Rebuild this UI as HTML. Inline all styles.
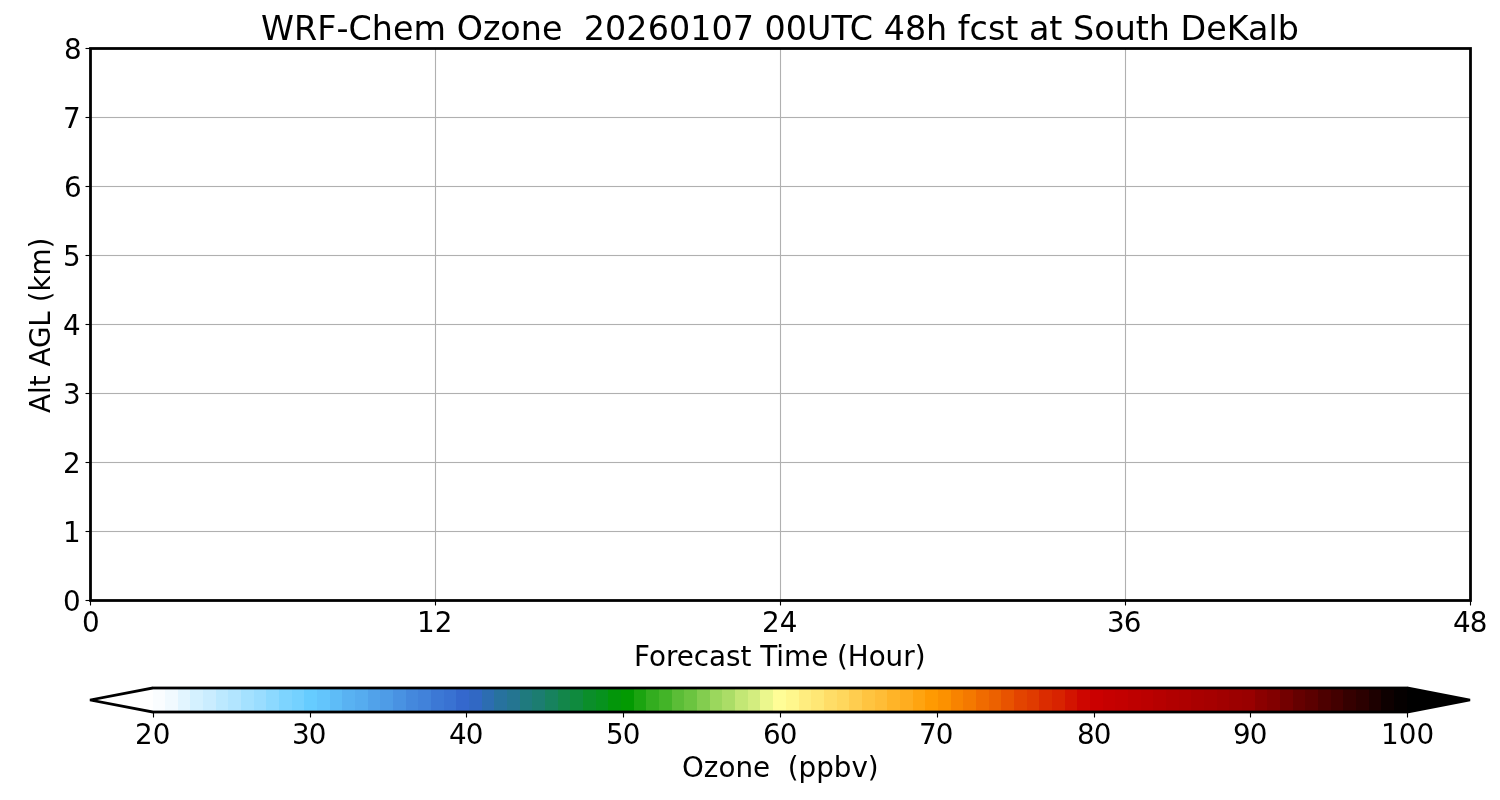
<!DOCTYPE html>
<html lang="en"><head><meta charset="utf-8"><title>WRF-Chem Ozone forecast at South DeKalb</title>
<style>
html,body{margin:0;padding:0;background:#fff;width:1500px;height:800px;overflow:hidden}
svg{display:block;position:absolute;left:0;top:0}
text{font-family:"DejaVu Sans","Liberation Sans",sans-serif;fill:#000;white-space:pre}
.t20{font-size:27.7778px}
.t24{font-size:33.3333px}
.grid line{stroke:#b0b0b0;stroke-width:1.1111}
.tick line{stroke:#000;stroke-width:1.1111}
</style></head><body>
<svg width="1500" height="800" viewBox="0 0 1500 800">
<rect x="0" y="0" width="1500" height="800" fill="#ffffff"/>
<text xml:space="preserve" class="t24" x="261 294 317.25 336.5 348.5 371.75 392.875 413.375 446 456.625 482.875 500.25 520.75 541.875 562.375 573 583.625 605 626.25 647.625 668.875 690.125 711.375 732.625 753.875 764.5 785.75 807 831.375 849.75 873 883.625 904.875 926 947.125 957.75 969.5 987.875 1005.25 1018.25 1028.875 1049.25 1062.25 1072.875 1094.125 1114.625 1135.75 1148.75 1169.875 1180.5 1206.25 1226.75 1248 1268.375 1277.625" y="39.67">WRF-Chem Ozone  20260107 00UTC 48h fcst at South DeKalb</text>
<g class="grid">
<line x1="435.5" y1="48" x2="435.5" y2="600"/>
<line x1="780.5" y1="48" x2="780.5" y2="600"/>
<line x1="1125.5" y1="48" x2="1125.5" y2="600"/>
<rect shape-rendering="crispEdges" x="90" y="531" width="1380" height="1" fill="#b0b0b0"/><rect shape-rendering="crispEdges" x="90" y="530" width="1380" height="3" fill="#b0b0b0" fill-opacity="0.0556"/>
<rect shape-rendering="crispEdges" x="90" y="462" width="1380" height="1" fill="#b0b0b0"/><rect shape-rendering="crispEdges" x="90" y="461" width="1380" height="3" fill="#b0b0b0" fill-opacity="0.0556"/>
<rect shape-rendering="crispEdges" x="90" y="393" width="1380" height="1" fill="#b0b0b0"/><rect shape-rendering="crispEdges" x="90" y="392" width="1380" height="3" fill="#b0b0b0" fill-opacity="0.0556"/>
<rect shape-rendering="crispEdges" x="90" y="324" width="1380" height="1" fill="#b0b0b0"/><rect shape-rendering="crispEdges" x="90" y="323" width="1380" height="3" fill="#b0b0b0" fill-opacity="0.0556"/>
<rect shape-rendering="crispEdges" x="90" y="255" width="1380" height="1" fill="#b0b0b0"/><rect shape-rendering="crispEdges" x="90" y="254" width="1380" height="3" fill="#b0b0b0" fill-opacity="0.0556"/>
<rect shape-rendering="crispEdges" x="90" y="186" width="1380" height="1" fill="#b0b0b0"/><rect shape-rendering="crispEdges" x="90" y="185" width="1380" height="3" fill="#b0b0b0" fill-opacity="0.0556"/>
<rect shape-rendering="crispEdges" x="90" y="117" width="1380" height="1" fill="#b0b0b0"/><rect shape-rendering="crispEdges" x="90" y="116" width="1380" height="3" fill="#b0b0b0" fill-opacity="0.0556"/>
</g>
<g class="tick">
<line x1="90.5" y1="600.5" x2="90.5" y2="605.5"/>
<line x1="435.5" y1="600.5" x2="435.5" y2="605.5"/>
<line x1="780.5" y1="600.5" x2="780.5" y2="605.5"/>
<line x1="1125.5" y1="600.5" x2="1125.5" y2="605.5"/>
<line x1="1470.5" y1="600.5" x2="1470.5" y2="605.5"/>
<line x1="85.5" y1="600.5" x2="90.5" y2="600.5"/>
<line x1="85.5" y1="531.5" x2="90.5" y2="531.5"/>
<line x1="85.5" y1="462.5" x2="90.5" y2="462.5"/>
<line x1="85.5" y1="393.5" x2="90.5" y2="393.5"/>
<line x1="85.5" y1="324.5" x2="90.5" y2="324.5"/>
<line x1="85.5" y1="255.5" x2="90.5" y2="255.5"/>
<line x1="85.5" y1="186.5" x2="90.5" y2="186.5"/>
<line x1="85.5" y1="117.5" x2="90.5" y2="117.5"/>
<line x1="85.5" y1="48.5" x2="90.5" y2="48.5"/>
</g>
<rect x="90.5" y="48.5" width="1380" height="552" fill="none" stroke="#000" stroke-width="2.7778"/>
<text xml:space="preserve" class="t20" x="82" y="631.83">0</text>
<text xml:space="preserve" class="t20" x="417 434.625" y="631.83">12</text>
<text xml:space="preserve" class="t20" x="762 779.625" y="631.83">24</text>
<text xml:space="preserve" class="t20" x="1107 1123.75" y="631.83">36</text>
<text xml:space="preserve" class="t20" x="1453 1469.625" y="631.83">48</text>
<text xml:space="preserve" class="t20" x="63" y="610.55">0</text>
<text xml:space="preserve" class="t20" x="63" y="541.55">1</text>
<text xml:space="preserve" class="t20" x="63" y="472.55">2</text>
<text xml:space="preserve" class="t20" x="63" y="403.55">3</text>
<text xml:space="preserve" class="t20" x="63" y="334.55">4</text>
<text xml:space="preserve" class="t20" x="63" y="265.55">5</text>
<text xml:space="preserve" class="t20" x="64" y="196.55">6</text>
<text xml:space="preserve" class="t20" x="63" y="127.55">7</text>
<text xml:space="preserve" class="t20" x="64" y="58.55">8</text>
<text xml:space="preserve" class="t20" x="634 649 665.875 676.75 693.75 709 726 740.5 751.375 760.25 776.25 784 811.125 828.125 837 847.75 868.625 885.5 903.125 914.625" y="666.27">Forecast Time (Hour)</text>
<text xml:space="preserve" class="t20" transform="translate(50.27 413.00) rotate(-90)" x="0 19 26.75 37.625 46.5 65 86.375 101.875 110.75 121.5 137.5 164.625" y="0">Alt AGL (km)</text>
<g shape-rendering="crispEdges">
<rect x="153" y="688" width="12" height="24" fill="#fafdff"/>
<rect x="165" y="688" width="13" height="24" fill="#f1faff"/>
<rect x="178" y="688" width="12" height="24" fill="#e2f5ff"/>
<rect x="190" y="688" width="13" height="24" fill="#d4f1ff"/>
<rect x="203" y="688" width="13" height="24" fill="#caedff"/>
<rect x="216" y="688" width="12" height="24" fill="#bce9ff"/>
<rect x="228" y="688" width="13" height="24" fill="#b2e5ff"/>
<rect x="241" y="688" width="13" height="24" fill="#a4e1ff"/>
<rect x="254" y="688" width="12" height="24" fill="#9addff"/>
<rect x="266" y="688" width="13" height="24" fill="#8cd9ff"/>
<rect x="279" y="688" width="13" height="24" fill="#7dd4ff"/>
<rect x="292" y="688" width="12" height="24" fill="#74d1ff"/>
<rect x="304" y="688" width="13" height="24" fill="#66ccff"/>
<rect x="317" y="688" width="13" height="24" fill="#63c5fc"/>
<rect x="330" y="688" width="12" height="24" fill="#5ebcf7"/>
<rect x="342" y="688" width="13" height="24" fill="#59b2f2"/>
<rect x="355" y="688" width="13" height="24" fill="#56acef"/>
<rect x="368" y="688" width="12" height="24" fill="#51a2ea"/>
<rect x="380" y="688" width="13" height="24" fill="#4e9ce7"/>
<rect x="393" y="688" width="13" height="24" fill="#4992e2"/>
<rect x="406" y="688" width="12" height="24" fill="#4488dd"/>
<rect x="418" y="688" width="13" height="24" fill="#4182da"/>
<rect x="431" y="688" width="13" height="24" fill="#3c78d5"/>
<rect x="444" y="688" width="12" height="24" fill="#3972d2"/>
<rect x="456" y="688" width="13" height="24" fill="#3468cd"/>
<rect x="469" y="688" width="13" height="24" fill="#3168c4"/>
<rect x="482" y="688" width="12" height="24" fill="#2c6db1"/>
<rect x="494" y="688" width="13" height="24" fill="#27729e"/>
<rect x="507" y="688" width="13" height="24" fill="#247591"/>
<rect x="520" y="688" width="12" height="24" fill="#1f7a7e"/>
<rect x="532" y="688" width="13" height="24" fill="#1c7d71"/>
<rect x="545" y="688" width="13" height="24" fill="#17825e"/>
<rect x="558" y="688" width="12" height="24" fill="#13864a"/>
<rect x="570" y="688" width="13" height="24" fill="#0f8a3e"/>
<rect x="583" y="688" width="13" height="24" fill="#0b8e2a"/>
<rect x="596" y="688" width="12" height="24" fill="#07921e"/>
<rect x="608" y="688" width="13" height="24" fill="#03960a"/>
<rect x="621" y="688" width="13" height="24" fill="#039a02"/>
<rect x="634" y="688" width="12" height="24" fill="#1ba410"/>
<rect x="646" y="688" width="13" height="24" fill="#33ad1f"/>
<rect x="659" y="688" width="13" height="24" fill="#43b428"/>
<rect x="672" y="688" width="12" height="24" fill="#5bbd37"/>
<rect x="684" y="688" width="13" height="24" fill="#6bc440"/>
<rect x="697" y="688" width="13" height="24" fill="#83cd4f"/>
<rect x="710" y="688" width="12" height="24" fill="#9bd75d"/>
<rect x="722" y="688" width="13" height="24" fill="#abdd67"/>
<rect x="735" y="688" width="13" height="24" fill="#c3e775"/>
<rect x="748" y="688" width="12" height="24" fill="#d3ed7f"/>
<rect x="760" y="688" width="13" height="24" fill="#ebf78d"/>
<rect x="773" y="688" width="13" height="24" fill="#fffd97"/>
<rect x="786" y="688" width="13" height="24" fill="#fff78d"/>
<rect x="799" y="688" width="12" height="24" fill="#ffed7f"/>
<rect x="811" y="688" width="13" height="24" fill="#ffe775"/>
<rect x="824" y="688" width="13" height="24" fill="#ffdd67"/>
<rect x="837" y="688" width="12" height="24" fill="#ffd75d"/>
<rect x="849" y="688" width="13" height="24" fill="#ffcd4f"/>
<rect x="862" y="688" width="13" height="24" fill="#ffc440"/>
<rect x="875" y="688" width="12" height="24" fill="#ffbd37"/>
<rect x="887" y="688" width="13" height="24" fill="#ffb428"/>
<rect x="900" y="688" width="13" height="24" fill="#ffad1f"/>
<rect x="913" y="688" width="12" height="24" fill="#ffa410"/>
<rect x="925" y="688" width="13" height="24" fill="#ff9a02"/>
<rect x="938" y="688" width="13" height="24" fill="#fc9100"/>
<rect x="951" y="688" width="12" height="24" fill="#f88300"/>
<rect x="963" y="688" width="13" height="24" fill="#f47900"/>
<rect x="976" y="688" width="13" height="24" fill="#f06b00"/>
<rect x="989" y="688" width="12" height="24" fill="#ec6100"/>
<rect x="1001" y="688" width="13" height="24" fill="#e85300"/>
<rect x="1014" y="688" width="13" height="24" fill="#e34400"/>
<rect x="1027" y="688" width="12" height="24" fill="#e03b00"/>
<rect x="1039" y="688" width="13" height="24" fill="#db2c00"/>
<rect x="1052" y="688" width="13" height="24" fill="#d82300"/>
<rect x="1065" y="688" width="12" height="24" fill="#d31400"/>
<rect x="1077" y="688" width="13" height="24" fill="#ce0600"/>
<rect x="1090" y="688" width="13" height="24" fill="#cb0000"/>
<rect x="1103" y="688" width="12" height="24" fill="#c60000"/>
<rect x="1115" y="688" width="13" height="24" fill="#c30000"/>
<rect x="1128" y="688" width="13" height="24" fill="#be0000"/>
<rect x="1141" y="688" width="12" height="24" fill="#bb0000"/>
<rect x="1153" y="688" width="13" height="24" fill="#b60000"/>
<rect x="1166" y="688" width="13" height="24" fill="#b10000"/>
<rect x="1179" y="688" width="12" height="24" fill="#ae0000"/>
<rect x="1191" y="688" width="13" height="24" fill="#a90000"/>
<rect x="1204" y="688" width="13" height="24" fill="#a60000"/>
<rect x="1217" y="688" width="12" height="24" fill="#a10000"/>
<rect x="1229" y="688" width="13" height="24" fill="#9c0000"/>
<rect x="1242" y="688" width="13" height="24" fill="#990000"/>
<rect x="1255" y="688" width="12" height="24" fill="#8b0000"/>
<rect x="1267" y="688" width="13" height="24" fill="#820000"/>
<rect x="1280" y="688" width="13" height="24" fill="#730000"/>
<rect x="1293" y="688" width="12" height="24" fill="#650000"/>
<rect x="1305" y="688" width="13" height="24" fill="#5b0000"/>
<rect x="1318" y="688" width="13" height="24" fill="#4d0000"/>
<rect x="1331" y="688" width="12" height="24" fill="#430000"/>
<rect x="1343" y="688" width="13" height="24" fill="#350000"/>
<rect x="1356" y="688" width="13" height="24" fill="#2b0000"/>
<rect x="1369" y="688" width="12" height="24" fill="#1d0000"/>
<rect x="1381" y="688" width="13" height="24" fill="#0e0000"/>
<rect x="1394" y="688" width="13" height="24" fill="#050000"/>
</g>
<polygon fill="#000" points="153,686.611 152.803,686.611 89.746,698.674 89.746,701.326 152.803,713.389 153,713.389 153,710.611 152.652,710.611 97.185,700 152.652,689.389 153,689.389"/>
<polygon fill="#000" points="1407,686.611 1407.197,686.611 1470.254,698.674 1470.254,701.326 1407.197,713.389 1407,713.389"/>
<g shape-rendering="crispEdges" fill="#000">
<rect x="153" y="687" width="1254" height="2"/><rect x="153" y="711" width="1254" height="2"/>
<rect x="153" y="686" width="1254" height="1" fill-opacity="0.3889"/><rect x="153" y="689" width="1254" height="1" fill-opacity="0.3889"/>
<rect x="153" y="710" width="1254" height="1" fill-opacity="0.3889"/><rect x="153" y="713" width="1254" height="1" fill-opacity="0.3889"/>
</g>
<g class="tick">
<line x1="153.5" y1="712" x2="153.5" y2="717.5"/>
<line x1="310.5" y1="712" x2="310.5" y2="717.5"/>
<line x1="466.5" y1="712" x2="466.5" y2="717.5"/>
<line x1="623.5" y1="712" x2="623.5" y2="717.5"/>
<line x1="780.5" y1="712" x2="780.5" y2="717.5"/>
<line x1="937.5" y1="712" x2="937.5" y2="717.5"/>
<line x1="1094.5" y1="712" x2="1094.5" y2="717.5"/>
<line x1="1250.5" y1="712" x2="1250.5" y2="717.5"/>
<line x1="1407.5" y1="712" x2="1407.5" y2="717.5"/>
</g>
<text xml:space="preserve" class="t20" x="135 152.625" y="743.83">20</text>
<text xml:space="preserve" class="t20" x="292 308.75" y="743.83">30</text>
<text xml:space="preserve" class="t20" x="449 465.625" y="743.83">40</text>
<text xml:space="preserve" class="t20" x="606 622.625" y="743.83">50</text>
<text xml:space="preserve" class="t20" x="763 779.625" y="743.83">60</text>
<text xml:space="preserve" class="t20" x="919 935.625" y="743.83">70</text>
<text xml:space="preserve" class="t20" x="1077 1093.625" y="743.83">80</text>
<text xml:space="preserve" class="t20" x="1233 1249.75" y="743.83">90</text>
<text xml:space="preserve" class="t20" x="1381 1398.625 1416.375" y="743.83">100</text>
<text xml:space="preserve" class="t20" x="682 703.75 718.5 735.375 753 770 778.875 787.75 798.5 816.125 833.75 851.375 867.75" y="777.27">Ozone  (ppbv)</text>
</svg></body></html>
